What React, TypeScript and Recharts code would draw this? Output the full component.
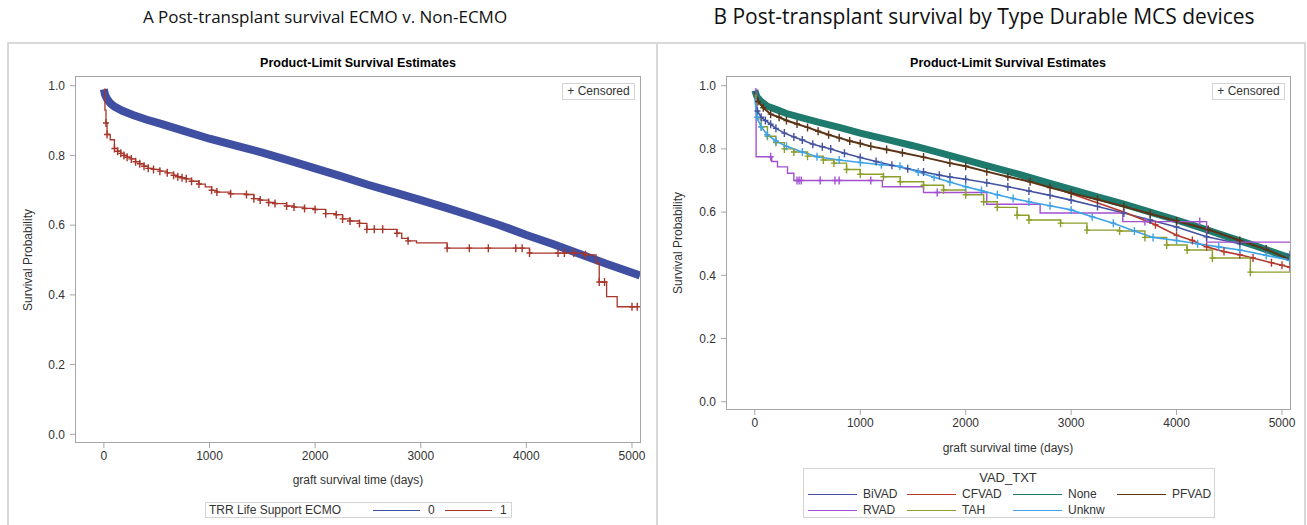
import React from "react";
import { Line, LineChart, XAxis, YAxis } from "recharts";

// [days, survival, censored?]
type Pt = [number, number, number?];

const xTicks = [0, 1000, 2000, 3000, 4000, 5000];
const yTicks = [0, 0.2, 0.4, 0.6, 0.8, 1.0];

// Panel A: TRR Life Support ECMO
const ecmo0: Pt[] = [
  [0, 0.99], [10, 0.975], [30, 0.962], [60, 0.95], [100, 0.94], [175, 0.928],
  [275, 0.916], [400, 0.903], [550, 0.89], [750, 0.871], [1000, 0.848],
  [1250, 0.828], [1500, 0.808], [1750, 0.786], [2000, 0.763], [2250, 0.74],
  [2500, 0.716], [2750, 0.694], [3000, 0.672], [3250, 0.649], [3500, 0.625],
  [3750, 0.6], [4000, 0.572], [4250, 0.546], [4500, 0.518], [4750, 0.49],
  [5076, 0.456],
];
const ecmo1: Pt[] = [
  [0, 0.99], [10, 0.93], [20, 0.893, 1], [30, 0.86, 1], [60, 0.845],
  [100, 0.82, 1], [130, 0.812, 1], [160, 0.806, 1], [190, 0.8, 1], [220, 0.795, 1],
  [260, 0.79, 1], [300, 0.782, 1], [340, 0.776, 1], [380, 0.769, 1], [420, 0.763, 1],
  [470, 0.76, 1], [530, 0.755, 1], [600, 0.75, 1], [660, 0.743, 1], [700, 0.739, 1],
  [740, 0.736, 1], [780, 0.733, 1], [830, 0.726, 1], [900, 0.718, 1], [960, 0.71],
  [1020, 0.7, 1], [1070, 0.695, 1], [1200, 0.69, 1], [1350, 0.688, 1], [1420, 0.676, 1],
  [1480, 0.672, 1], [1560, 0.665, 1], [1620, 0.662, 1], [1730, 0.655, 1], [1800, 0.652, 1],
  [1900, 0.648, 1], [2000, 0.645, 1], [2100, 0.633, 1], [2200, 0.63, 1], [2260, 0.618, 1],
  [2330, 0.612, 1], [2420, 0.605, 1], [2490, 0.588, 1], [2560, 0.588, 1], [2640, 0.588, 1],
  [2775, 0.577, 1], [2820, 0.562], [2880, 0.555, 1], [2960, 0.549], [3250, 0.534, 1],
  [3460, 0.534, 1], [3640, 0.534, 1], [3900, 0.534, 1], [3960, 0.534, 1], [4030, 0.52, 1],
  [4300, 0.52, 1], [4360, 0.52, 1], [4450, 0.52, 1], [4560, 0.515, 1], [4660, 0.49],
  [4690, 0.437, 1], [4740, 0.437, 1], [4760, 0.395], [4860, 0.366], [5000, 0.366, 1],
  [5050, 0.366, 1],
];

// Panel B: VAD_TXT
const bivad: Pt[] = [
  [0, 0.97], [25, 0.92, 1], [60, 0.9, 1], [100, 0.89, 1], [150, 0.878, 1], [200, 0.865, 1],
  [280, 0.85, 1], [370, 0.838, 1], [450, 0.828, 1], [550, 0.815, 1], [640, 0.807, 1],
  [720, 0.8, 1], [850, 0.786, 1], [1000, 0.773, 1], [1150, 0.76, 1], [1300, 0.748, 1],
  [1450, 0.737, 1], [1600, 0.727, 1], [1750, 0.717, 1], [1850, 0.711, 1], [2000, 0.704, 1],
  [2200, 0.693, 1], [2400, 0.68, 1], [2600, 0.667, 1], [2800, 0.653, 1], [3000, 0.638, 1],
  [3250, 0.618, 1], [3500, 0.597, 1], [3750, 0.575, 1], [4000, 0.553, 1], [4285, 0.522, 1],
  [4600, 0.5, 1], [4850, 0.483, 1], [5076, 0.465, 1],
];
const cfvad: Pt[] = [
  [0, 0.98], [100, 0.94], [300, 0.91], [500, 0.89], [1000, 0.848], [1500, 0.805],
  [2000, 0.762], [2500, 0.715], [3000, 0.658], [3500, 0.6], [3800, 0.56, 1],
  [4000, 0.527, 1], [4150, 0.51, 1], [4285, 0.49, 1], [4450, 0.475, 1], [4600, 0.465, 1],
  [4725, 0.455, 1], [4900, 0.44, 1], [5000, 0.432, 1], [5076, 0.425, 1],
];
const none: Pt[] = [
  [0, 0.985], [20, 0.965], [60, 0.95], [120, 0.935], [200, 0.925], [300, 0.912],
  [450, 0.898], [600, 0.885], [800, 0.868], [1000, 0.85], [1250, 0.83], [1500, 0.81],
  [1750, 0.788], [2000, 0.765], [2250, 0.742], [2500, 0.72], [2750, 0.696], [3000, 0.672],
  [3250, 0.648], [3500, 0.625], [3750, 0.6], [4000, 0.575], [4250, 0.548], [4500, 0.52],
  [4750, 0.493], [5076, 0.455],
];
const pfvad: Pt[] = [
  [0, 0.98], [30, 0.95, 1], [80, 0.93, 1], [150, 0.91, 1], [230, 0.9, 1], [300, 0.89, 1],
  [400, 0.879, 1], [500, 0.868, 1], [600, 0.856, 1], [700, 0.845, 1], [800, 0.835, 1],
  [900, 0.825, 1], [1000, 0.817, 1], [1100, 0.808, 1], [1250, 0.798, 1], [1400, 0.788, 1],
  [1600, 0.774, 1], [1850, 0.755, 1], [2000, 0.745, 1], [2200, 0.728, 1], [2400, 0.712, 1],
  [2611, 0.696, 1], [2800, 0.678, 1], [3000, 0.66, 1], [3250, 0.64, 1], [3500, 0.618, 1],
  [3750, 0.595, 1], [4000, 0.572, 1], [4300, 0.545, 1], [4600, 0.51, 1], [4850, 0.482, 1],
  [5076, 0.45, 1],
];
const rvad: Pt[] = [
  [0, 0.99], [12, 0.775], [150, 0.775, 1], [160, 0.76], [215, 0.743], [310, 0.723],
  [370, 0.7], [400, 0.7, 1], [420, 0.7, 1], [440, 0.7, 1], [620, 0.7, 1], [760, 0.7, 1],
  [800, 0.7, 1], [1100, 0.7, 1], [1210, 0.68], [1600, 0.662], [1730, 0.662, 1],
  [2200, 0.625], [2706, 0.597], [3490, 0.57], [3700, 0.57, 1], [4220, 0.57, 1],
  [4285, 0.505], [5076, 0.505],
];
const tah: Pt[] = [
  [0, 0.97], [10, 0.92], [25, 0.895], [60, 0.87, 1], [120, 0.84, 1], [200, 0.82, 1],
  [280, 0.8, 1], [370, 0.79, 1], [500, 0.777, 1], [650, 0.765, 1], [750, 0.755, 1],
  [870, 0.735, 1], [1000, 0.72, 1], [1220, 0.712, 1], [1379, 0.696, 1], [1600, 0.685, 1],
  [1790, 0.67, 1], [2000, 0.655, 1], [2170, 0.633, 1], [2300, 0.615, 1], [2488, 0.59, 1],
  [2600, 0.575, 1], [2900, 0.565, 1], [3150, 0.543, 1], [3460, 0.54, 1], [3700, 0.52, 1],
  [3906, 0.496, 1], [4100, 0.48, 1], [4340, 0.455, 1], [4700, 0.41, 1], [5076, 0.41],
];
const unknw: Pt[] = [
  [0, 0.96], [20, 0.9, 1], [60, 0.87, 1], [117, 0.845, 1], [200, 0.825, 1], [300, 0.808, 1],
  [450, 0.79, 1], [590, 0.775, 1], [800, 0.765, 1], [1000, 0.757, 1], [1200, 0.75, 1],
  [1376, 0.745, 1], [1550, 0.727, 1], [1700, 0.71, 1], [1850, 0.695, 1], [2000, 0.68, 1],
  [2150, 0.668, 1], [2300, 0.655, 1], [2450, 0.643, 1], [2600, 0.633, 1], [2800, 0.62, 1],
  [3000, 0.607, 1], [3200, 0.585, 1], [3400, 0.565, 1], [3600, 0.54, 1], [3777, 0.52, 1],
  [4000, 0.51, 1], [4200, 0.5, 1], [4400, 0.49, 1], [4600, 0.48, 1], [4850, 0.463, 1],
  [5076, 0.448, 1],
];

interface Series {
  name: string;
  pts: Pt[];
  color: string;
  width: number;
  step?: boolean;
}

const seriesA: Series[] = [
  { name: "0", pts: ecmo0, color: "#3f4fa2", width: 8 },
  { name: "1", pts: ecmo1, color: "#a8362b", width: 1.3, step: true },
];

const seriesB: Series[] = [
  { name: "BiVAD", pts: bivad, color: "#4453a0", width: 1.6 },
  { name: "CFVAD", pts: cfvad, color: "#b43a2e", width: 1.6 },
  { name: "None", pts: none, color: "#1f7a6e", width: 7 },
  { name: "PFVAD", pts: pfvad, color: "#5b3416", width: 2 },
  { name: "RVAD", pts: rvad, color: "#a350d0", width: 1.4, step: true },
  { name: "TAH", pts: tah, color: "#8d9e2b", width: 1.4, step: true },
  { name: "Unknw", pts: unknw, color: "#3fa3e8", width: 1.6 },
];

const SANS = '"Liberation Sans", Arial, sans-serif';
const AXIS = "#a6a6a6";
const INK = "#333";

const rows = (pts: Pt[]) => pts.map(([t, s, c]) => ({ t, s, c: !!c }));

function censorDot(color: string) {
  return (p: any) => {
    const { cx, cy, payload, index } = p;
    if (!payload?.c || cx == null) return <g key={`d${index}`} />;
    return (
      <path
        key={`d${index}`}
        d={`M${cx - 3},${cy}H${cx + 3}M${cx},${cy - 4}V${cy + 4}`}
        stroke={color}
        strokeWidth={1.4}
        fill="none"
      />
    );
  };
}

interface Box {
  left: number;
  top: number;
  right: number;
  bottom: number;
}

function KMPlot({
  x,
  width,
  plot,
  yDomain,
  series,
}: {
  x: number;
  width: number;
  plot: Box;
  yDomain: [number, number];
  series: Series[];
}) {
  const yAxisW = 46;
  const xAxisH = 30;
  const margin = {
    top: plot.top,
    left: plot.left - x - yAxisW,
    right: x + width - plot.right,
    bottom: 525 - plot.bottom - xAxisH,
  };
  return (
    <div style={{ position: "absolute", left: x, top: 0 }}>
      <LineChart width={width} height={525} margin={margin}>
        <XAxis
          type="number"
          dataKey="t"
          domain={[-264, 5076]}
          ticks={xTicks}
          interval={0}
          allowDataOverflow
          height={xAxisH}
          axisLine={false}
          tickSize={6}
          tickMargin={3}
          stroke={AXIS}
          tick={{ fill: INK, fontSize: 12, fontFamily: SANS }}
        />
        <YAxis
          type="number"
          domain={yDomain}
          ticks={yTicks}
          interval={0}
          allowDataOverflow
          width={yAxisW}
          axisLine={false}
          tickSize={6}
          tickMargin={5}
          stroke={AXIS}
          tickFormatter={(v: number) => v.toFixed(1)}
          tick={{ fill: INK, fontSize: 12, fontFamily: SANS }}
        />
        {series.map((sr) => (
          <Line
            key={sr.name}
            data={rows(sr.pts)}
            dataKey="s"
            name={sr.name}
            type={sr.step ? "stepAfter" : "linear"}
            stroke={sr.color}
            strokeWidth={sr.width}
            dot={censorDot(sr.color)}
            activeDot={false}
            isAnimationActive={false}
          />
        ))}
      </LineChart>
    </div>
  );
}

const abs = (style: React.CSSProperties): React.CSSProperties => ({
  position: "absolute",
  whiteSpace: "nowrap",
  ...style,
});

function Frame({ plot }: { plot: Box }) {
  return (
    <div
      style={abs({
        left: plot.left - 1,
        top: plot.top - 1,
        width: plot.right - plot.left + 2,
        height: plot.bottom - plot.top + 2,
        border: `1.5px solid ${AXIS}`,
        boxSizing: "border-box",
        pointerEvents: "none",
      })}
    />
  );
}

function CenterText({
  x,
  y,
  children,
  style,
}: {
  x: number;
  y: number;
  children: React.ReactNode;
  style?: React.CSSProperties;
}) {
  return (
    <div
      style={abs({
        left: x,
        top: y,
        transform: "translate(-50%, -50%)",
        fontFamily: SANS,
        fontSize: 12,
        color: INK,
        lineHeight: 1,
        ...style,
      })}
    >
      {children}
    </div>
  );
}

function Censored({ left }: { left: number }) {
  return (
    <div
      style={abs({
        left,
        top: 83,
        width: 73,
        height: 17,
        border: "1px solid #d4d4d4",
        boxSizing: "border-box",
        fontFamily: SANS,
        fontSize: 12,
        color: INK,
        lineHeight: "15px",
        textAlign: "center",
      })}
    >
      + Censored
    </div>
  );
}

function Swatch({ x, y, color, label }: { x: number; y: number; color: string; label: string }) {
  return (
    <>
      <div style={abs({ left: x, top: y, width: 49, height: 0, borderTop: `1.5px solid ${color}` })} />
      <div
        style={abs({
          left: x + 55,
          top: y - 7,
          fontFamily: SANS,
          fontSize: 12,
          color: INK,
          lineHeight: "14px",
        })}
      >
        {label}
      </div>
    </>
  );
}

const plotA: Box = { left: 76, top: 77, right: 640, bottom: 442 };
const plotB: Box = { left: 727, top: 77, right: 1290, bottom: 409 };

const legendColsB = [808, 907, 1013, 1117];
const legendRowsB = [494, 510];

export default function App() {
  const titleFont = '"Open Sans", "Noto Sans", sans-serif';
  return (
    <div
      style={{
        position: "absolute",
        left: 0,
        top: 0,
        width: 1307,
        height: 525,
        background: "#fff",
        overflow: "hidden",
      }}
    >
      <CenterText x={325} y={16} style={{ fontFamily: titleFont, fontSize: 17, color: "#111" }}>
        A Post-transplant survival ECMO v. Non-ECMO
      </CenterText>
      <CenterText x={984} y={16} style={{ fontFamily: titleFont, fontSize: 21, color: "#111" }}>
        B Post-transplant survival by Type Durable MCS devices
      </CenterText>

      <div
        style={abs({
          left: 7,
          top: 42,
          width: 651,
          height: 500,
          border: "2px solid #d8d8d8",
          boxSizing: "border-box",
        })}
      />
      <div
        style={abs({
          left: 656,
          top: 42,
          width: 650,
          height: 500,
          borderTop: "2px solid #d8d8d8",
          borderRight: "2px solid #d8d8d8",
          boxSizing: "border-box",
        })}
      />

      <KMPlot x={0} width={655} plot={plotA} yDomain={[-0.022, 1.025]} series={seriesA} />
      <Frame plot={plotA} />
      <CenterText x={358} y={63} style={{ fontWeight: "bold", fontSize: 12.5, color: "#000" }}>
        Product-Limit Survival Estimates
      </CenterText>
      <Censored left={562} />
      <CenterText x={28} y={260} style={{ transform: "translate(-50%, -50%) rotate(-90deg)" }}>
        Survival Probability
      </CenterText>
      <CenterText x={358} y={480}>graft survival time (days)</CenterText>
      <div
        style={abs({
          left: 205,
          top: 502,
          width: 307,
          height: 16,
          border: "1px solid #d4d4d4",
          boxSizing: "border-box",
        })}
      />
      <div
        style={abs({ left: 209, top: 503, fontFamily: SANS, fontSize: 12, color: INK, lineHeight: "14px" })}
      >
        TRR Life Support ECMO
      </div>
      {seriesA.map((sr, i) => (
        <div key={sr.name}>
          <div
            style={abs({
              left: 373 + i * 72,
              top: 510,
              width: 47,
              height: 0,
              borderTop: `1.5px solid ${sr.color}`,
            })}
          />
          <div
            style={abs({
              left: 428 + i * 72,
              top: 503,
              fontFamily: SANS,
              fontSize: 12,
              color: INK,
              lineHeight: "14px",
            })}
          >
            {sr.name}
          </div>
        </div>
      ))}

      <KMPlot x={657} width={650} plot={plotB} yDomain={[-0.023, 1.0275]} series={seriesB} />
      <Frame plot={plotB} />
      <CenterText x={1008} y={63} style={{ fontWeight: "bold", fontSize: 12.5, color: "#000" }}>
        Product-Limit Survival Estimates
      </CenterText>
      <Censored left={1212} />
      <CenterText x={678} y={243} style={{ transform: "translate(-50%, -50%) rotate(-90deg)" }}>
        Survival Probability
      </CenterText>
      <CenterText x={1008} y={448}>graft survival time (days)</CenterText>
      <div
        style={abs({
          left: 803,
          top: 468,
          width: 412,
          height: 50,
          border: "1px solid #d4d4d4",
          boxSizing: "border-box",
        })}
      />
      <CenterText x={1008} y={477} style={{ fontSize: 13 }}>VAD_TXT</CenterText>
      {seriesB.map((sr, i) => (
        <Swatch
          key={sr.name}
          x={legendColsB[i % 4]}
          y={legendRowsB[Math.floor(i / 4)]}
          color={sr.color}
          label={sr.name}
        />
      ))}
    </div>
  );
}
